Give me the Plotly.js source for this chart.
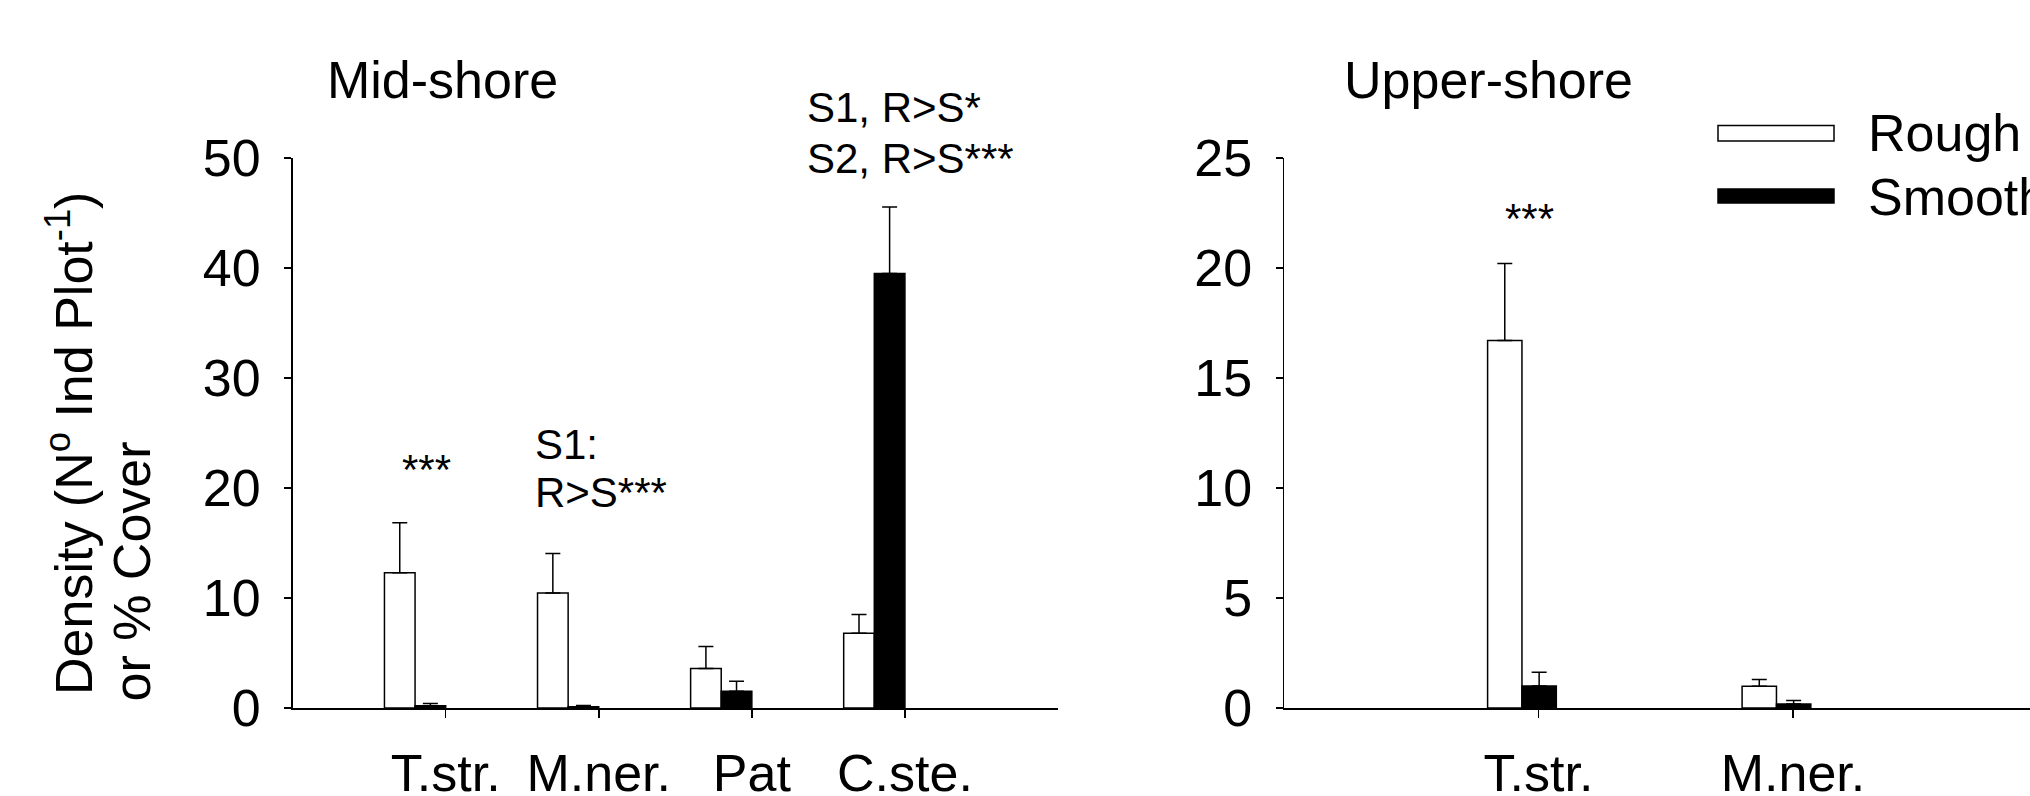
<!DOCTYPE html>
<html>
<head>
<meta charset="utf-8">
<script src="https://cdn.plot.ly/plotly-3.0.1.min.js"></script>
<style>html,body{margin:0;padding:0;background:#fff;}#chart{width:2030px;height:796px;}</style>
</head>
<body>
<div id="chart"></div>
<script>
// ---- Data ----
const midCategories = ["T.str.", "M.ner.", "Pat", "C.ste."];
const midRough = [12.3, 10.45, 3.6, 6.8];
const midRoughSE = [4.55, 3.6, 2.0, 1.7];
const midSmooth = [0.2, 0.12, 1.52, 39.5];
const midSmoothSE = [0.2, 0.1, 0.92, 6.05];

const upperCategories = ["T.str.", "M.ner."];
const upperRough = [16.7, 0.99];
const upperRoughSE = [3.5, 0.3];
const upperSmooth = [1.0, 0.18];
const upperSmoothSE = [0.62, 0.16];

const seriesNames = ["Rough", "Smooth"];
const panelTitles = ["Mid-shore", "Upper-shore"];

// ---- Style ----
const FONT = "Arial, 'Liberation Sans', sans-serif";
const BLACK = "#000000";

function pos(cats) { return cats.map((c, i) => i + 1); }
function zeros(n) { return new Array(n).fill(0); }

function barTrace(xa, ya, cats, vals, se, fill, offset, width, name) {
  return {
    type: "bar", xaxis: xa, yaxis: ya, name: name, showlegend: false,
    x: pos(cats), y: vals, offset: offset, width: width,
    marker: { color: fill, line: { color: BLACK, width: 1.5 } },
    error_y: { type: "data", symmetric: false, array: se, arrayminus: zeros(se.length),
               color: BLACK, thickness: 1.5, width: 7.5 },
    hoverinfo: "skip"
  };
}

const traces = [
  barTrace("x", "y", midCategories, midRough, midRoughSE, "#ffffff", -0.4, 0.2, seriesNames[0]),
  barTrace("x", "y", midCategories, midSmooth, midSmoothSE, BLACK, -0.2, 0.2, seriesNames[1]),
  barTrace("x2", "y2", upperCategories, upperRough, upperRoughSE, "#ffffff", -0.2, 0.135, seriesNames[0]),
  barTrace("x2", "y2", upperCategories, upperSmooth, upperSmoothSE, BLACK, -0.065, 0.135, seriesNames[1])
];

const W = 2030, H = 796;
const px = v => v / W;
const py = v => 1 - v / H;

const xCommon = {
  showline: true, linecolor: BLACK, linewidth: 2, ticks: "outside", ticklen: 8, tickwidth: 1.5,
  tickcolor: BLACK, showgrid: false, zeroline: false, tickmode: "array",
  tickfont: { family: FONT, size: 52, color: BLACK }, ticklabelstandoff: 11, fixedrange: true
};
const yCommon = {
  showline: true, linecolor: BLACK, linewidth: 1.5, ticks: "outside", ticklen: 7, tickwidth: 1.5,
  tickcolor: BLACK, showgrid: false, zeroline: false,
  tickfont: { family: FONT, size: 52, color: BLACK }, ticklabelstandoff: 13, fixedrange: true
};

function ann(text, x, y, size, xanchor, extra) {
  return Object.assign({ text: text, x: x, y: y, xref: "paper", yref: "paper", showarrow: false,
    xanchor: xanchor || "center", yanchor: "middle",
    font: { family: FONT, size: size, color: BLACK } }, extra || {});
}

const layout = {
  width: W, height: H,
  margin: { l: 0, r: 0, t: 0, b: 0 },
  paper_bgcolor: "#ffffff", plot_bgcolor: "rgba(0,0,0,0)",
  barmode: "overlay", showlegend: false,
  xaxis: Object.assign({}, xCommon, { domain: [px(292.6), px(1058)], range: [0, 5],
    tickvals: pos(midCategories), ticktext: midCategories, anchor: "y" }),
  yaxis: Object.assign({}, yCommon, { domain: [py(708), py(158)], range: [0, 50],
    tickvals: [0, 10, 20, 30, 40, 50], anchor: "x" }),
  xaxis2: Object.assign({}, xCommon, { domain: [px(1284), 1], range: [0, (2030 - 1284) / 254.5],
    tickvals: pos(upperCategories), ticktext: upperCategories, anchor: "y2" }),
  yaxis2: Object.assign({}, yCommon, { domain: [py(708), py(158)], range: [0, 25],
    tickvals: [0, 5, 10, 15, 20, 25], anchor: "x2" }),
  shapes: [
    { type: "rect", xref: "paper", yref: "paper", x0: px(1718), x1: px(1834), y0: py(141), y1: py(125.6),
      fillcolor: "#ffffff", line: { color: BLACK, width: 1.5 } },
    { type: "rect", xref: "paper", yref: "paper", x0: px(1718), x1: px(1834), y0: py(203), y1: py(189),
      fillcolor: BLACK, line: { color: BLACK, width: 1.5 } }
  ],
  annotations: [
    ann(panelTitles[0], px(442), py(80), 52),
    ann(panelTitles[1], px(1488.8), py(80), 52),
    ann("***", px(426.6), py(470), 42),
    ann("S1:", px(533.4), py(444), 42, "left"),
    ann("R>S***", px(533.4), py(492), 42, "left"),
    ann("S1, R>S*", px(805), py(107.5), 42, "left"),
    ann("S2, R>S***", px(805), py(158), 42, "left"),
    ann("***", px(1529.5), py(218), 42),
    ann("Density (N<sup>o</sup> Ind Plot<sup>-1</sup>)", px(70), py(444), 52, "center", { textangle: -90 }),
    ann("or % Cover", px(131), py(571.5), 52, "center", { textangle: -90 }),
    ann(seriesNames[0], px(1865.5), py(133), 52, "left"),
    ann(seriesNames[1], px(1865.5), py(197), 52, "left")
  ]
};

Plotly.newPlot("chart", traces, layout, { displayModeBar: false, staticPlot: true });
</script>
</body>
</html>
